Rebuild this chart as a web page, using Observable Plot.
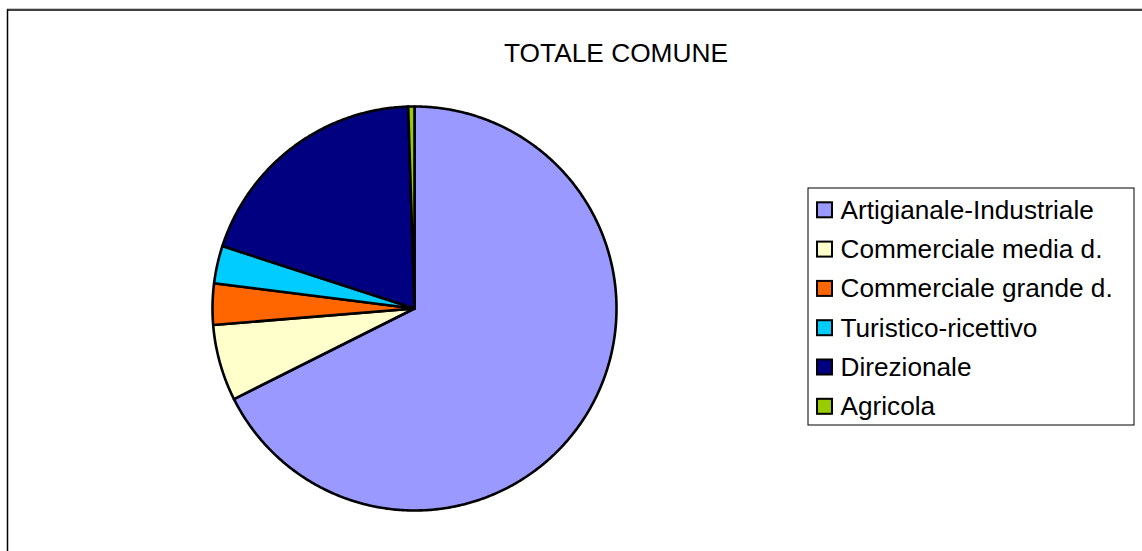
<!DOCTYPE html>
<html>
<head>
<meta charset="utf-8">
<script src="https://cdn.jsdelivr.net/npm/d3@7"></script>
<script src="https://cdn.jsdelivr.net/npm/@observablehq/plot@0.6"></script>
<style>
  html, body { margin: 0; padding: 0; background: #fff; }
</style>
</head>
<body>
<div id="chart"></div>
<script>
const title = "TOTALE COMUNE";
const categories = ["Artigianale-Industriale", "Commerciale media d.", "Commerciale grande d.", "Turistico-ricettivo", "Direzionale", "Agricola"];
const values = [67.6, 6.1, 3.3, 3.0, 19.5, 0.5];
const colors = ["#9999FF", "#FFFFCC", "#FF6600", "#00CCFF", "#000080", "#99CC00"];

const W = 1142, H = 551;
const cx = 414, cy = 308, r = 202;
const total = d3.sum(values);

// Build slice outlines from the values (clockwise from 12 o'clock)
const slicePts = [];
let acc = 0;
values.forEach((v, i) => {
  const a0 = acc / total * 2 * Math.PI;
  acc += v;
  const a1 = acc / total * 2 * Math.PI;
  const n = Math.max(2, Math.ceil((a1 - a0) / (Math.PI / 360)));
  const cat = categories[i];
  slicePts.push({cat, x: cx, y: cy});
  for (let k = 0; k <= n; k++) {
    const a = a0 + (a1 - a0) * k / n;
    slicePts.push({cat, x: cx + r * Math.sin(a), y: cy - r * Math.cos(a)});
  }
  slicePts.push({cat, x: cx, y: cy});
});

const legX = 808, legY = 188, legW = 326, legH = 237;
const rowBase = 218.3, rowStep = 39.3;
const legendFont = 26.2;
const titleFont = 26.3;

const chart = Plot.plot({
  width: W,
  height: H,
  margin: 0,
  x: {domain: [0, W], range: [0, W], axis: null},
  y: {domain: [0, H], range: [0, H], axis: null},
  color: {type: "ordinal", domain: categories, range: colors},
  style: {fontFamily: "'Liberation Sans', Arial, sans-serif", background: "#fff", color: "#000"},
  marks: [
    // frame
    Plot.ruleY([8], {x1: 7, x2: W, stroke: "#c8c8c8", strokeWidth: 1}),
    Plot.ruleY([9.5], {x1: 7, x2: W, stroke: "#000", strokeWidth: 1.5}),
    Plot.ruleX([7], {y1: 9.5, y2: H, stroke: "#000", strokeWidth: 1.5}),
    // title
    Plot.text([title], {x: () => 615.5, y: () => 61.5 - 0.32 * titleFont, text: d => d, fontSize: titleFont, fill: "#000"}),
    // pie slices
    Plot.line(slicePts, {x: "x", y: "y", z: "cat", fill: "cat", stroke: "#000", strokeWidth: 2.6, strokeLinejoin: "round", curve: "linear"}),
    // legend box
    Plot.rect([0], {x1: () => legX, x2: () => legX + legW, y1: () => legY, y2: () => legY + legH, fill: "#fff", stroke: "#000", strokeWidth: 1}),
    Plot.rect(categories, {
      x1: () => 817, x2: () => 832,
      y1: (d, i) => rowBase + i * rowStep - 16, y2: (d, i) => rowBase + i * rowStep - 1,
      fill: d => d, stroke: "#000", strokeWidth: 2
    }),
    Plot.text(categories, {
      x: () => 840, y: (d, i) => rowBase + i * rowStep - 0.32 * legendFont,
      text: d => d, textAnchor: "start", fontSize: legendFont, fill: "#000"
    })
  ]
});
document.getElementById("chart").appendChild(chart);
</script>
</body>
</html>
